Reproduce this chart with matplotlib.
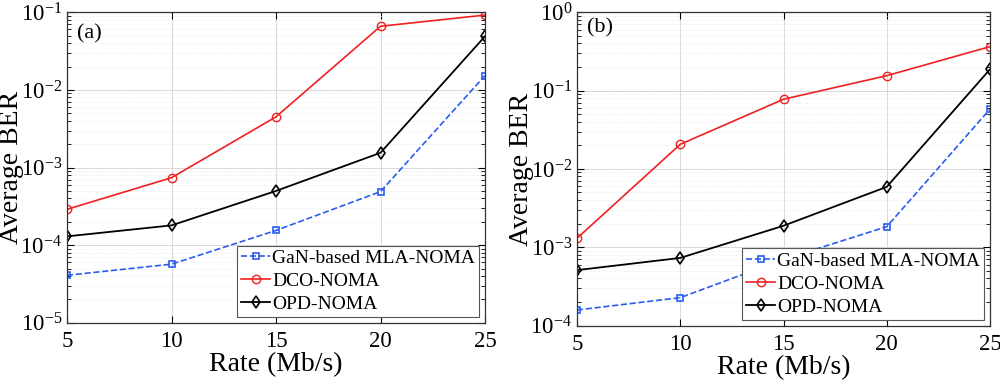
import numpy as np
import matplotlib
matplotlib.use("Agg")
import matplotlib.pyplot as plt
from matplotlib.ticker import LogLocator, NullFormatter

plt.rcParams['font.family'] = ['Liberation Serif', 'DejaVu Serif']
plt.rcParams['mathtext.fontset'] = 'stix'

# data
rate = [5, 10, 15, 20, 25]

gan_a = [4.1e-5, 5.7e-5, 1.55e-4, 4.9e-4, 1.53e-2]
dco_a = [2.9e-4, 7.4e-4, 4.5e-3, 6.6e-2, 9.2e-2]
opd_a = [1.3e-4, 1.8e-4, 5.0e-4, 1.55e-3, 4.9e-2]

gan_b = [1.58e-4, 2.27e-4, 7.0e-4, 1.83e-3, 5.8e-2]
dco_b = [1.3e-3, 2.06e-2, 7.75e-2, 1.55e-1, 3.64e-1]
opd_b = [5.1e-4, 7.3e-4, 1.88e-3, 5.9e-3, 1.87e-1]

labels = ['GaN-based MLA-NOMA', 'DCO-NOMA', 'OPD-NOMA']
panels = ['(a)', '(b)']
ylims = [(1e-5, 1e-1), (1e-4, 1e0)]

fig = plt.figure(figsize=(10, 3.83), dpi=100)
ax1 = fig.add_axes([0.067, 0.157, 0.418, 0.811])
ax2 = fig.add_axes([0.577, 0.150, 0.413, 0.818])

def draw(ax, gan, dco, opd, tag, ylim, tag_y):
    ax.semilogy(rate, gan, '--s', color='#2a5cf0', lw=1.2, ms=4,
                mfc='none', mew=1.2, label=labels[0])
    ax.semilogy(rate, dco, '-o', color='#f02020', lw=1.2, ms=6,
                mfc='none', mew=1.0, label=labels[1])
    ax.semilogy(rate, opd, '-d', color='black', lw=1.3, ms=6,
                mfc='none', mew=1.2, label=labels[2])
    ax.set_xlim(5, 25)
    ax.set_ylim(*ylim)
    ax.set_xticks(rate)
    ax.yaxis.set_major_locator(LogLocator(base=10, numticks=10))
    ax.yaxis.set_minor_locator(LogLocator(base=10, subs=np.arange(2, 10), numticks=20))
    ax.yaxis.set_minor_formatter(NullFormatter())
    ax.grid(True, which='major', color='#d8d8d8', lw=0.7)
    ax.grid(True, which='minor', axis='y', color='#e6e6e6', lw=0.6, ls=':')
    ax.tick_params(which='both', direction='in', top=True, right=True, labelsize=16.5)
    ax.tick_params(which='major', length=5)
    ax.tick_params(axis='x', pad=6)
    ax.tick_params(which='minor', length=3)
    for s in ax.spines.values():
        s.set_linewidth(0.9)
        s.set_color('#333333')
    ax.set_xlabel('Rate (Mb/s)', fontsize=20, labelpad=0)
    ax.set_ylabel('Average BER', fontsize=20, labelpad=-3)
    ax.text(0.025, tag_y, tag, transform=ax.transAxes, fontsize=16, va='center')
    leg = ax.legend(loc='lower right', fontsize=14, fancybox=False,
                    edgecolor='#555555', framealpha=1, borderpad=0.2,
                    labelspacing=0.28, handlelength=1.5, handletextpad=0.1,
                    borderaxespad=0.3)
    leg.get_frame().set_linewidth(0.8)

draw(ax1, gan_a, dco_a, opd_a, panels[0], ylims[0], 0.93)
draw(ax2, gan_b, dco_b, opd_b, panels[1], ylims[1], 0.95)

fig.savefig('out.png', dpi=100)
